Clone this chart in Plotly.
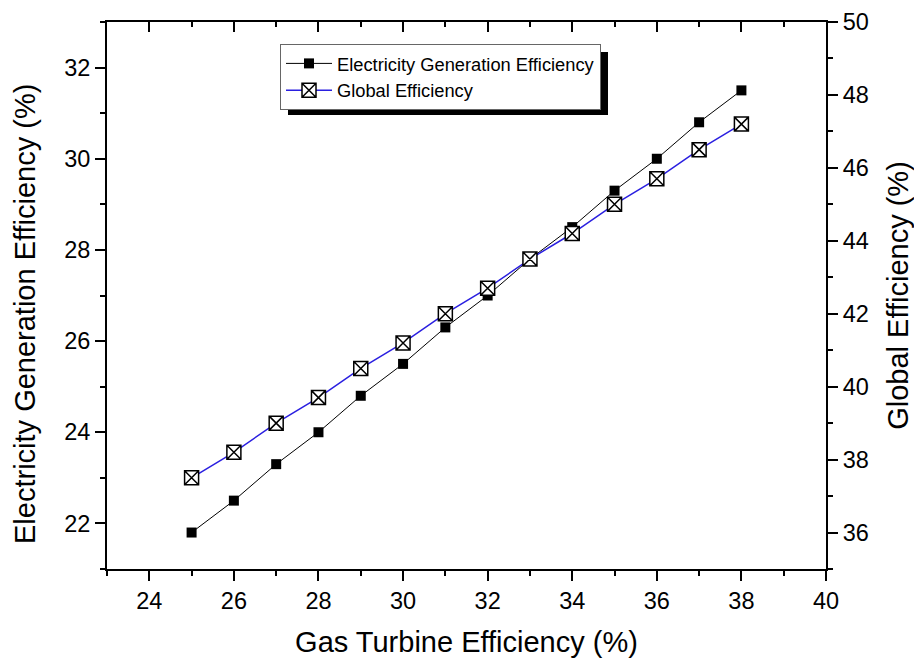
import plotly.graph_objects as go

gas_turbine_eff = [25, 26, 27, 28, 29, 30, 31, 32, 33, 34, 35, 36, 37, 38]
electricity_eff = [21.8, 22.5, 23.3, 24.0, 24.8, 25.5, 26.3, 27.0, 27.8, 28.5, 29.3, 30.0, 30.8, 31.5]
global_eff = [37.5, 38.2, 39.0, 39.7, 40.5, 41.2, 42.0, 42.7, 43.5, 44.2, 45.0, 45.7, 46.5, 47.2]

FONT = "Arial, Liberation Sans, sans-serif"

fig = go.Figure()
fig.add_trace(go.Scatter(
    x=gas_turbine_eff, y=electricity_eff, name="Electricity Generation Efficiency",
    mode="lines+markers", line=dict(color="black", width=1),
    marker=dict(symbol="square", size=10, color="black"),
    xaxis="x", yaxis="y"))
fig.add_trace(go.Scatter(
    x=gas_turbine_eff, y=global_eff, name="Global Efficiency",
    mode="lines+markers", line=dict(color="#2a1fe0", width=1.5),
    marker=dict(symbol="square-x", size=14, color="white", line=dict(color="black", width=1.5)),
    xaxis="x", yaxis="y2"))
# invisible trace to make top mirror axis exist
fig.add_trace(go.Scatter(x=[None], y=[None], xaxis="x2", yaxis="y", showlegend=False, hoverinfo="skip"))

tick_font = dict(family=FONT, size=23.5, color="black")
title_font = dict(family=FONT, size=29, color="black")

common = dict(showgrid=False, zeroline=False, showline=True, linecolor="black", linewidth=2,
              tickcolor="black", tickwidth=2, ticklen=10, tickfont=tick_font)

W, H = 914, 658
L, R, T, B = 107, 88, 22, 89
PW, PH = W - L - R, H - T - B


def px_x(p):
    return (p - L) / PW


def px_y(p):
    return (H - B - p) / PH


fig.update_layout(
    width=W, height=H,
    margin=dict(l=L, r=R, t=T, b=B),
    paper_bgcolor="white", plot_bgcolor="white",
    font=dict(family=FONT, color="black"),
    xaxis=dict(range=[23, 40], dtick=2, tick0=24, ticks="outside",
               minor=dict(dtick=1, tick0=23, ticks="outside", ticklen=5, tickwidth=2, tickcolor="black"),
               title=dict(text="Gas Turbine Efficiency (%)", font=title_font, standoff=18),
               automargin=False, **common),
    xaxis2=dict(range=[23, 40], dtick=2, tick0=24, ticks="inside", overlaying="x", side="top",
                anchor="y", showticklabels=False,
                minor=dict(dtick=1, tick0=23, ticks="inside", ticklen=5, tickwidth=2, tickcolor="black"),
                **common),
    yaxis=dict(range=[21, 33], dtick=2, tick0=22, ticks="outside",
               minor=dict(dtick=1, tick0=21, ticks="outside", ticklen=5, tickwidth=2, tickcolor="black"),
               automargin=False, **common),
    yaxis2=dict(range=[35, 50], dtick=2, tick0=36, ticks="outside", overlaying="y", side="right",
                anchor="x",
                minor=dict(dtick=1, tick0=35, ticks="outside", ticklen=5, tickwidth=2, tickcolor="black"),
                title=dict(text="Global Efficiency (%)", font=title_font, standoff=22),
                automargin=False, **common),
    legend=dict(x=px_x(280), y=px_y(44), xanchor="left", yanchor="top",
                bgcolor="white", bordercolor="#666666", borderwidth=1,
                font=dict(family=FONT, size=18.3, color="black"),
                itemwidth=46, tracegroupgap=0),
    showlegend=True,
)

# left axis title (placed as in the reference, slightly below centre)
fig.add_annotation(text="Electricity Generation Efficiency (%)", textangle=-90,
                   xref="paper", yref="paper", x=px_x(25), y=px_y(314),
                   xanchor="center", yanchor="middle", showarrow=False, font=title_font)

# legend drop shadow
fig.add_shape(type="rect", xref="paper", yref="paper",
              x0=px_x(288), x1=px_x(608),
              y0=px_y(115), y1=px_y(52),
              fillcolor="black", line=dict(width=0), layer="above")

fig.write_html("out.html")
